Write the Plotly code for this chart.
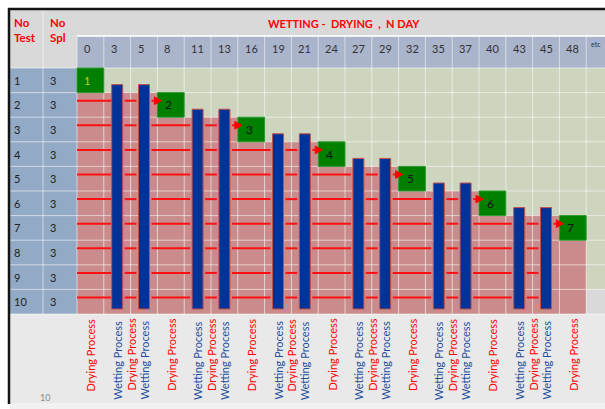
import plotly.graph_objects as go

# ---------------- data ----------------
days = ["0", "3", "5", "8", "11", "13", "16", "19", "21", "24", "27", "29",
        "32", "35", "37", "40", "43", "45", "48", "etc"]
test_no = [1, 2, 3, 4, 5, 6, 7, 8, 9, 10]
spl_no = [3, 3, 3, 3, 3, 3, 3, 3, 3, 3]
title = "WETTING -  DRYING  ,  N DAY"

# drying result boxes: label, day column index, test row
box_labels = [1, 2, 3, 4, 5, 6, 7]
box_day_idx = [0, 3, 6, 9, 12, 15, 18]
box_row = [1, 2, 3, 4, 5, 6, 7]

# wetting bars: day column index and first test row reached
wet_day_idx = [1, 2, 4, 5, 7, 8, 10, 11, 13, 14, 16, 17]
wet_start_row = [2, 2, 3, 3, 4, 4, 5, 5, 6, 6, 7, 7]

# first processed (pink) row for each day column 0..48
pink_start_row = [2, 2, 2, 3, 3, 3, 4, 4, 4, 5, 5, 5, 6, 6, 6, 7, 7, 7, 8]

# bottom labels: drying under box columns and between each wetting pair
dry_label_pos = [0.5, 2.0, 3.5, 5.0, 6.5, 8.0, 9.5, 11.0, 12.5, 14.0, 15.5, 17.0, 18.5]
wet_label_pos = [i + 0.5 for i in wet_day_idx]

# ---------------- layout constants ----------------
W, H = 605, 409
PX0, CW = 77.0, 26.8      # pixel of day col 0, column width
PY0, RH = 68.0, 24.6      # pixel of row 1 top, row height


def px(p):
    return (p - PX0) / CW


def py(p):
    return (p - PY0) / RH


XR = [px(0), px(W)]
YR = [py(H), py(0)]
NCOL = len(days)
NROW = len(test_no)
FONT = "Lato"

shapes = []


def rect(x0, x1, y0, y1, fill, line_color=None, lw=0, layer="below"):
    shapes.append(dict(type="rect", xref="x", yref="y", x0=x0, x1=x1, y0=y0, y1=y1,
                       fillcolor=fill, line=dict(color=line_color or fill, width=lw),
                       layer=layer))


def line(x0, x1, y0, y1, color, lw, layer="above"):
    shapes.append(dict(type="line", xref="x", yref="y", x0=x0, x1=x1, y0=y0, y1=y1,
                       line=dict(color=color, width=lw), layer=layer))


# backgrounds
rect(px(10), XR[1], NROW, py(403), "#e9e9e9")
rect(px(10), XR[1], py(403), YR[0], "#f1f1f1")
rect(px(10), XR[1], py(10), py(36), "#d9d9d9")
rect(px(10), 0, py(36), 0, "#d9d9d9")
rect(0, XR[1], py(36), 0, "#aab4cb")
rect(px(10), 0, 0, NROW, "#93aac7")
rect(0, NCOL, 0, NROW, "#cdd5bf")
for c, r0 in enumerate(pink_start_row):
    rect(c, c + 1, r0 - 1, NROW, "#c98b8b")
rect(NCOL - 1, NCOL, NROW - 1, NROW, "#d9d9d9")

# grid lines
gl = "rgba(255,255,255,0.55)"
for c in range(NCOL + 1):
    line(c, c, py(36), NROW, gl, 1, layer="below")
line(px(43), px(43), py(10), NROW, gl, 1, layer="below")
for r in range(NROW):
    line(px(10), XR[1], r, r, gl, 1, layer="below")
line(0, XR[1], py(36), py(36), "rgba(255,255,255,0.8)", 2, layer="below")
line(px(10), XR[1], NROW, NROW, gl, 1, layer="below")

# borders
line(px(9), px(9), py(8), py(404), "#141414", 2.5)
line(px(8), XR[1], py(9), py(9), "#141414", 2.5)

# boxes
for lab, c, r in zip(box_labels, box_day_idx, box_row):
    rect(c, c + 1, r - 1, r, "#007f00", "#2d9a2d", 1, layer="above")

# wetting bar geometry
BW = 11.0 / CW
bar_top_off = 8.0 / RH
bar_bottom = py(309)
bars = [(c + 0.5 - BW / 2, c + 0.5 + BW / 2, r) for c, r in zip(wet_day_idx, wet_start_row)]

# red drying lines per row
LY = 0.33
gap = 2.0 / CW
tip_in = 4.0 / CW
head_len = 7.0 / CW
head_half = 3.8 / RH
for r in test_no:
    if r < 2:
        continue
    y = r - 1 + LY
    crossing = [b for b in bars if b[2] <= r]
    box_here = [c for c, br in zip(box_day_idx, box_row) if br == r]
    xs = 0.0
    segs = []
    for (b0, b1, _) in crossing:
        segs.append((xs, b0 - (gap if xs > 0 else 0)))
        xs = b1 + gap
    if box_here:
        tip = box_here[0] + tip_in
        segs.append((xs, tip - head_len))
        shapes.append(dict(type="path", xref="x", yref="y",
                           path=f"M {tip - head_len},{y - head_half} L {tip},{y} L {tip - head_len},{y + head_half} Z",
                           fillcolor="#ff0000", line=dict(color="#ff0000", width=1), layer="above"))
    for a, b in segs:
        if b > a:
            line(a, b, y, y, "#ff1010", 2)

# bars on top
for b0, b1, r in bars:
    rect(b0, b1, r - 1 - bar_top_off, bar_bottom, "#003399", "#c0504d", 1, layer="above")

# ---------------- annotations ----------------
ann = []


def text(x, y, s, size=11, color="#222222", xanchor="left", yanchor="middle", bold=False, angle=0):
    if bold:
        s = f"<b>{s}</b>"
    ann.append(dict(x=x, y=y, xref="x", yref="y", text=s, showarrow=False,
                    xanchor=xanchor, yanchor=yanchor, textangle=angle,
                    font=dict(family=FONT, size=size, color=color), align="left"))


text(px(344), py(23), title, size=11, color="#ff0000", xanchor="center", bold=True)
text(px(12), py(30), "No<br>Test", size=11.5, color="#ff0000", bold=True)
text(px(48), py(30), "No<br>Spl", size=11.5, color="#ff0000", bold=True)
for c, d in enumerate(days):
    if d == "etc":
        text(c + 3 / CW, py(44), d, size=7, color="#333333")
    else:
        text(c + 5 / CW, py(48), d, size=11, color="#333333")
for r, t, s in zip(range(NROW), test_no, spl_no):
    text(px(12), r + 0.5, str(t), size=11)
    text(px(48), r + 0.5, str(s), size=11)
for lab, c, r in zip(box_labels, box_day_idx, box_row):
    col = "#c8d400" if lab == 1 else "#111111"
    text(c + (5 if lab == 1 else 6) / CW, r - 0.5, str(lab), size=12 if lab != 1 else 11, color=col)
for xp in dry_label_pos:
    text(xp, py(393), "Drying Process", size=11, color="#ff0000", xanchor="center",
         yanchor="bottom", angle=-90)
for xp in wet_label_pos:
    text(xp, py(402), "Wetting Process", size=11, color="#1f4e9e", xanchor="center",
         yanchor="bottom", angle=-90)
text(px(38), py(397), "10", size=9, color="#8a8a8a")

fig = go.Figure()
fig.update_layout(
    width=W, height=H, margin=dict(l=0, r=0, t=0, b=0, pad=0),
    paper_bgcolor="white", plot_bgcolor="white",
    xaxis=dict(range=XR, visible=False, fixedrange=True),
    yaxis=dict(range=YR, visible=False, fixedrange=True),
    shapes=shapes, annotations=ann, showlegend=False,
)
fig.write_html("out.html", config={"displayModeBar": False},
               post_script="document.body.style.margin='0px';")
